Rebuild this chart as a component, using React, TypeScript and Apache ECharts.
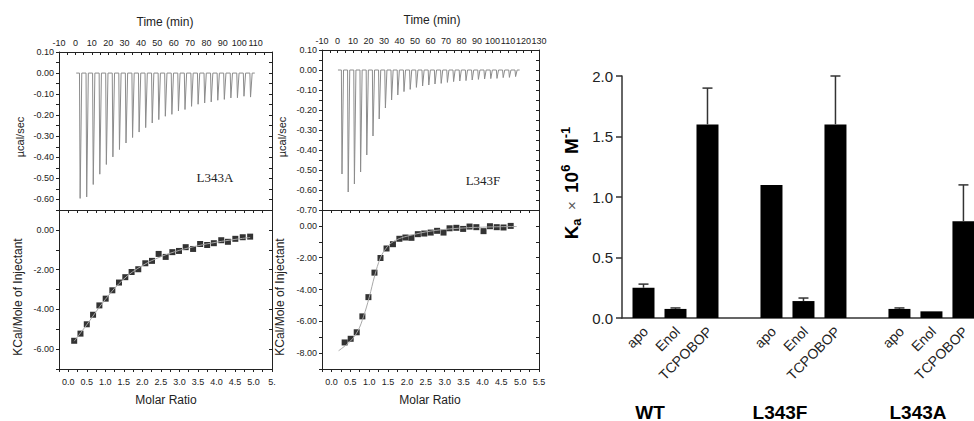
import React, { useEffect, useRef } from "react";
import * as echarts from "echarts";

// ---------- ITC panel L343A ----------
const injTimeA = [2.5, 6.5, 10.5, 14.5, 18.5, 22.5, 26.5, 30.5, 34.5, 38.5, 42.5, 46.5, 50.5, 54.5, 58.5, 62.5, 66.5, 70.5, 74.5, 78.5, 82.5, 86.5, 90.5, 94.5, 98.5, 102.5, 106.5];
const peakA = [-0.595, -0.588, -0.529, -0.48, -0.434, -0.398, -0.363, -0.332, -0.306, -0.28, -0.259, -0.237, -0.221, -0.205, -0.196, -0.18, -0.173, -0.158, -0.148, -0.142, -0.137, -0.129, -0.125, -0.118, -0.117, -0.11, -0.114];
const traceSpanA = [0.5, 109.5];
const ratioA = [0.16, 0.33, 0.5, 0.67, 0.84, 1.01, 1.19, 1.37, 1.54, 1.71, 1.89, 2.08, 2.26, 2.44, 2.63, 2.81, 2.99, 3.17, 3.37, 3.56, 3.75, 3.93, 4.13, 4.31, 4.51, 4.71, 4.91];
const heatA = [-5.58, -5.22, -4.75, -4.27, -3.8, -3.46, -3.04, -2.65, -2.38, -2.12, -1.98, -1.68, -1.56, -1.21, -1.36, -1.12, -1.06, -0.87, -0.96, -0.71, -0.76, -0.67, -0.52, -0.6, -0.45, -0.37, -0.34];
const fitRatioA = [0.16, 0.5, 1.0, 1.5, 2.0, 2.5, 3.0, 3.5, 4.0, 4.5, 4.91];
const fitHeatA = [-5.6, -4.77, -3.5, -2.47, -1.8, -1.35, -1.03, -0.8, -0.62, -0.48, -0.38];

// ---------- ITC panel L343F ----------
const injTimeB = [2.5, 6.5, 10.5, 14.5, 18.5, 22.5, 26.5, 30.5, 34.5, 38.5, 42.5, 46.5, 50.5, 54.5, 58.5, 62.5, 66.5, 70.5, 74.5, 78.5, 82.5, 86.5, 90.5, 94.5, 98.5, 102.5, 106.5, 110.5, 114.5];
const peakB = [-0.52, -0.61, -0.57, -0.51, -0.425, -0.33, -0.245, -0.19, -0.15, -0.125, -0.108, -0.097, -0.087, -0.08, -0.075, -0.07, -0.067, -0.062, -0.058, -0.055, -0.053, -0.05, -0.047, -0.045, -0.043, -0.042, -0.038, -0.037, -0.033];
const traceSpanB = [0.3, 117.5];
const ratioB = [0.35, 0.51, 0.67, 0.82, 0.98, 1.14, 1.3, 1.46, 1.63, 1.8, 1.96, 2.12, 2.29, 2.46, 2.63, 2.8, 2.97, 3.13, 3.31, 3.49, 3.66, 3.84, 4.03, 4.2, 4.38, 4.56, 4.75];
const heatB = [-7.33, -7.1, -6.69, -5.69, -4.48, -2.94, -2.02, -1.42, -1.15, -0.81, -0.73, -0.75, -0.52, -0.48, -0.42, -0.31, -0.42, -0.15, -0.12, -0.19, -0.04, -0.08, -0.33, -0.02, -0.08, -0.1, 0.0];
const fitRatioB = [0.19, 0.5, 0.7, 0.85, 1.0, 1.15, 1.3, 1.45, 1.6, 1.8, 2.0, 2.5, 3.0, 3.5, 4.0, 4.5, 4.91];
const fitHeatB = [-7.85, -7.25, -6.6, -5.7, -4.5, -3.1, -2.0, -1.4, -1.05, -0.8, -0.65, -0.38, -0.22, -0.13, -0.08, -0.05, -0.04];

// ---------- Ka bars ----------
const groups = ["WT", "L343F", "L343A"];
const conditions = ["apo", "Enol", "TCPOBOP"];
const kaWT = [0.25, 0.075, 1.6];
const kaL343F = [1.1, 0.14, 1.6];
const kaL343A = [0.075, 0.055, 0.8];
const errWT = [0.03, 0.008, 0.3];
const errL343F = [0, 0.025, 0.4];
const errL343A = [0.008, 0, 0.3];
const kaTicks = [0, 0.5, 1.0, 1.5, 2.0];

const AX = "#222";
const SANS = "Liberation Sans";
const SERIF = "Liberation Serif";

const near = (v: number, step: number) => Math.abs(v / step - Math.round(v / step)) < 1e-6;

// thermogram trace built from each injection's read peak depth
function buildTrace(times: number[], peaks: number[], span: number[]) {
  const pts: number[][] = [[span[0], 0]];
  times.forEach((t, i) => {
    pts.push([t, 0]);
    pts.push([t + 0.4, peaks[i]]);
    pts.push([t + 1.4, 0]);
  });
  pts.push([span[1], 0]);
  return pts;
}

const zip = (a: number[], b: number[]) => a.map((v, i) => [v, b[i]]);

function timeTop(grid: number, max: number, hideMax: boolean) {
  return {
    type: "value", gridIndex: grid, position: "top", min: -10, max, interval: 5,
    axisLine: { show: true, onZero: false, lineStyle: { color: AX, width: 1 } },
    axisTick: { show: true, inside: true, length: 3, lineStyle: { color: AX } },
    axisLabel: {
      show: true, margin: 5, fontFamily: SANS, fontSize: 9, color: AX,
      showMinLabel: true, showMaxLabel: true,
      formatter: (v: number) => (near(v, 10) && !(hideMax && v === max) ? String(v) : ""),
    },
    splitLine: { show: false },
  };
}
function lineOnly(grid: number, position: string, min: number, max: number) {
  return {
    type: "value", gridIndex: grid, position, min, max,
    axisLine: { show: true, onZero: false, lineStyle: { color: AX, width: 1 } },
    axisTick: { show: false }, axisLabel: { show: false }, splitLine: { show: false },
  };
}
function ratioTop(grid: number) {
  return {
    type: "value", gridIndex: grid, position: "top", min: -0.25, max: 5.5, interval: 0.25,
    axisLine: { show: true, onZero: false, lineStyle: { color: AX, width: 1 } },
    axisTick: { show: true, inside: true, length: 3, lineStyle: { color: AX } },
    axisLabel: { show: false }, splitLine: { show: false },
  };
}
function ratioBottom(grid: number, clipLast: boolean) {
  return {
    type: "value", gridIndex: grid, position: "bottom", min: -0.25, max: 5.5, interval: 0.25,
    axisLine: { show: true, onZero: false, lineStyle: { color: AX, width: 1 } },
    axisTick: { show: true, inside: false, length: 3, lineStyle: { color: AX } },
    axisLabel: {
      show: true, margin: 8, fontFamily: SANS, fontSize: 9, color: AX, showMaxLabel: true,
      formatter: (v: number) => {
        if (!near(v, 0.5) || v < 0) return "";
        if (clipLast && v === 5.5) return "5.";
        return v.toFixed(1);
      },
    },
    splitLine: { show: false },
  };
}
function leftY(grid: number, min: number, max: number, interval: number, labelStep: number) {
  return {
    type: "value", gridIndex: grid, position: "left", min, max, interval,
    axisLine: { show: true, onZero: false, lineStyle: { color: AX, width: 1 } },
    axisTick: { show: true, inside: false, length: 3, lineStyle: { color: AX } },
    axisLabel: {
      show: true, margin: 5, fontFamily: SANS, fontSize: 9, color: AX,
      showMinLabel: true, showMaxLabel: true,
      formatter: (v: number) => (near(v, labelStep) ? (Math.abs(v) < 1e-9 ? 0 : v).toFixed(2) : ""),
    },
    splitLine: { show: false },
  };
}
function rightY(grid: number, min: number, max: number, interval: number) {
  return {
    type: "value", gridIndex: grid, position: "right", min, max, interval,
    axisLine: { show: true, onZero: false, lineStyle: { color: AX, width: 1 } },
    axisTick: { show: true, inside: true, length: 3, lineStyle: { color: AX } },
    axisLabel: { show: false }, splitLine: { show: false },
  };
}

function txt(x: number, y: number, text: string, size: number, o: any = {}) {
  return {
    type: "text", x, y, rotation: o.rot || 0, silent: true,
    style: {
      text, fontSize: size, fontFamily: o.family || SANS, fontWeight: o.bold ? "bold" : "normal",
      fill: o.color || AX, align: o.align || "center", verticalAlign: "middle",
    },
  };
}

export default function App() {
  const ref = useRef<HTMLDivElement>(null);
  useEffect(() => {
    document.body.style.margin = "0";
    if (!ref.current) return;
    const chart = echarts.init(ref.current, undefined, { renderer: "svg" });

    const kaAll = [kaWT, kaL343F, kaL343A];
    const errAll = [errWT, errL343F, errL343A];
    const barData: any[] = [];
    const errData: any[] = [];
    groups.forEach((g, gi) => {
      conditions.forEach((c, ci) => {
        const x = gi * 4 + ci;
        barData.push({ name: c, value: [x, kaAll[gi][ci]] });
        errData.push([x, kaAll[gi][ci], errAll[gi][ci]]);
      });
    });

    const baseGraphic: any[] = [
      txt(165, 22, "Time (min)", 12),
      txt(432, 20, "Time (min)", 12),
      txt(20, 137, "µcal/sec", 11, { rot: Math.PI / 2 }),
      txt(282, 137, "µcal/sec", 11, { rot: Math.PI / 2 }),
      txt(18, 297, "KCal/Mole of Injectant", 12, { rot: Math.PI / 2 }),
      txt(280, 297, "KCal/Mole of Injectant", 12, { rot: Math.PI / 2 }),
      txt(166, 400, "Molar Ratio", 12),
      txt(430, 400, "Molar Ratio", 12),
      txt(215, 177, "L343A", 13, { family: SERIF }),
      txt(483, 180, "L343F", 13, { family: SERIF }),
      txt(650, 412, groups[0], 19, { bold: true, color: "#000" }),
      txt(780, 412, groups[1], 19, { bold: true, color: "#000" }),
      txt(918, 412, groups[2], 19, { bold: true, color: "#000" }),
      {
        type: "text", x: 571, y: 183, rotation: Math.PI / 2, silent: true,
        style: {
          text: "K{sub|a}{x|  ×  }10{sup|6}  M{sup|-1}",
          fontSize: 19, fontWeight: "bold", fontFamily: SANS, fill: "#000",
          align: "center", verticalAlign: "middle", lineHeight: 24,
          rich: {
            sub: { fontSize: 13, fontWeight: "bold", fontFamily: SANS, fill: "#000", verticalAlign: "bottom", lineHeight: 24 },
            sup: { fontSize: 13, fontWeight: "bold", fontFamily: SANS, fill: "#000", verticalAlign: "top", lineHeight: 24 },
            x: { fontSize: 15, fontWeight: "normal", fontFamily: SANS, fill: "#555", lineHeight: 24 },
          },
        },
      },
    ];

    const option: any = {
      animation: false,
      backgroundColor: "#fff",
      grid: [
        { left: 59, top: 52, width: 213, height: 158 },
        { left: 59, top: 210, width: 213, height: 159 },
        { left: 322, top: 50, width: 217, height: 160 },
        { left: 322, top: 210, width: 217, height: 159 },
        { left: 622, top: 76, width: 352, height: 242 },
      ],
      xAxis: [
        timeTop(0, 120, true),
        lineOnly(0, "bottom", -10, 120),
        ratioTop(1),
        ratioBottom(1, true),
        timeTop(2, 130, false),
        lineOnly(2, "bottom", -10, 130),
        ratioTop(3),
        ratioBottom(3, false),
        {
          type: "value", gridIndex: 4, min: -0.672, max: 10.33,
          axisLine: { show: true, onZero: false, lineStyle: { color: "#333", width: 1.5 } },
          axisTick: { show: false }, axisLabel: { show: false }, splitLine: { show: false },
        },
      ],
      yAxis: [
        leftY(0, -0.65, 0.1, 0.05, 0.1),
        rightY(0, -0.65, 0.1, 0.05),
        leftY(1, -7, 1, 1, 2),
        rightY(1, -7, 1, 1),
        leftY(2, -0.7, 0.1, 0.05, 0.1),
        rightY(2, -0.7, 0.1, 0.05),
        leftY(3, -9, 1, 1, 2),
        rightY(3, -9, 1, 1),
        {
          type: "value", gridIndex: 4, min: kaTicks[0], max: kaTicks[kaTicks.length - 1], interval: 0.5,
          axisLine: { show: true, onZero: false, lineStyle: { color: "#333", width: 1.5 } },
          axisTick: { show: true, inside: false, length: 6, lineStyle: { color: "#333", width: 1.5 } },
          axisLabel: { show: true, margin: 9, fontFamily: SANS, fontSize: 15, color: AX, formatter: (v: number) => v.toFixed(1) },
          splitLine: { show: false },
        },
      ],
      series: [
        {
          type: "line", xAxisIndex: 0, yAxisIndex: 0, data: buildTrace(injTimeA, peakA, traceSpanA),
          showSymbol: false, lineStyle: { color: "#8c8c8c", width: 1 }, silent: true,
        },
        {
          type: "line", xAxisIndex: 3, yAxisIndex: 2, data: zip(fitRatioA, fitHeatA), smooth: 0.4,
          showSymbol: false, lineStyle: { color: "#a8a8a8", width: 1 }, silent: true,
        },
        {
          type: "scatter", xAxisIndex: 3, yAxisIndex: 2, data: zip(ratioA, heatA),
          symbol: "rect", symbolSize: 6, itemStyle: { color: "#000" }, silent: true,
        },
        {
          type: "line", xAxisIndex: 4, yAxisIndex: 4, data: buildTrace(injTimeB, peakB, traceSpanB),
          showSymbol: false, lineStyle: { color: "#8c8c8c", width: 1 }, silent: true,
        },
        {
          type: "line", xAxisIndex: 7, yAxisIndex: 6, data: zip(fitRatioB, fitHeatB), smooth: 0.4,
          showSymbol: false, lineStyle: { color: "#a8a8a8", width: 1 }, silent: true,
        },
        {
          type: "scatter", xAxisIndex: 7, yAxisIndex: 6, data: zip(ratioB, heatB),
          symbol: "rect", symbolSize: 6, itemStyle: { color: "#000" }, silent: true,
        },
        {
          type: "bar", xAxisIndex: 8, yAxisIndex: 8, data: barData, barWidth: 22,
          itemStyle: { color: "#000" }, silent: true,
        },
        {
          type: "custom", xAxisIndex: 8, yAxisIndex: 8, data: errData, z: 3, silent: true,
          encode: { x: 0, y: 1 },
          renderItem: (params: any, api: any) => {
            const x = api.value(0), v = api.value(1), e = api.value(2);
            if (!(e > 0)) return { type: "group", children: [] };
            const b = api.coord([x, v]);
            const t = api.coord([x, v + e]);
            const st = { stroke: "#333", lineWidth: 1.5 };
            return {
              type: "group",
              children: [
                { type: "line", shape: { x1: b[0], y1: b[1], x2: t[0], y2: t[1] }, style: st },
                { type: "line", shape: { x1: t[0] - 5, y1: t[1], x2: t[0] + 5, y2: t[1] }, style: st },
              ],
            };
          },
        },
      ],
      graphic: baseGraphic,
    };
    chart.setOption(option);

    // 45° condition labels, anchored under each bar through the bar axis scale
    const condLabels = barData.map((d: any) => {
      const p = chart.convertToPixel({ xAxisIndex: 8, yAxisIndex: 8 } as any, [d.value[0], 0]) as number[];
      return {
        type: "text", x: p[0] + 2, y: p[1] + 11, rotation: Math.PI / 4, silent: true,
        style: {
          text: d.name, fontSize: 14, fontFamily: SANS, fill: AX,
          align: "right", verticalAlign: "middle",
        },
      };
    });
    chart.setOption({ graphic: [...baseGraphic, ...condLabels] });

    return () => chart.dispose();
  }, []);
  return <div ref={ref} style={{ width: 974, height: 421 }} />;
}
